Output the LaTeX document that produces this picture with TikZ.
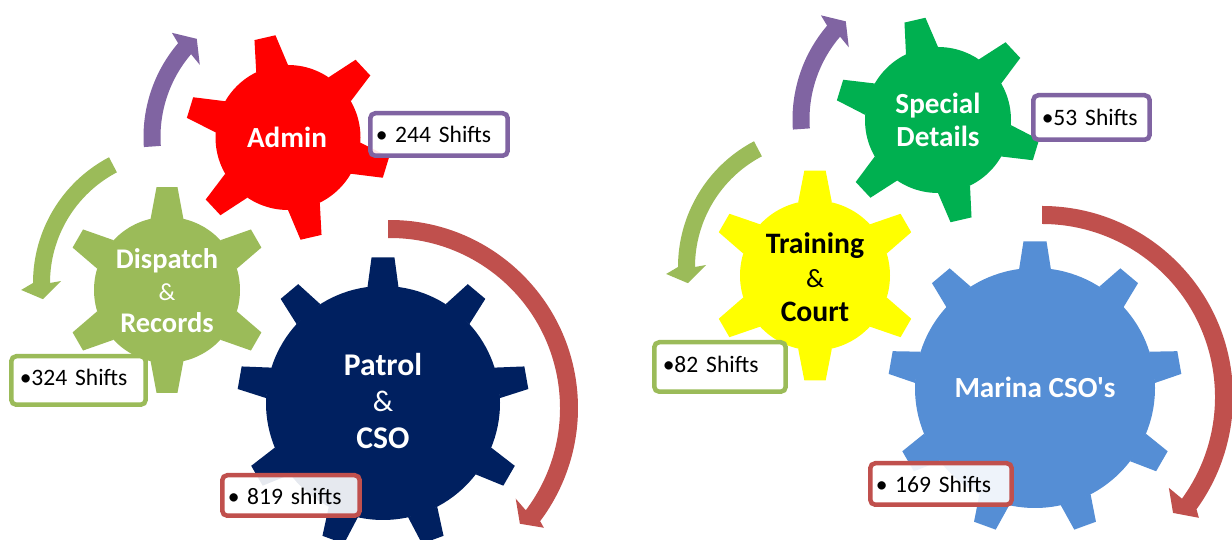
\documentclass[tikz,border=0pt]{standalone}
\usepackage{fontspec}
\setmainfont{Carlito}[Ligatures=TeXOff]
\definecolor{adminred}{HTML}{FF0000}
\definecolor{dispgreen}{HTML}{9BBB59}
\definecolor{patrolblue}{HTML}{002060}
\definecolor{specialgreen}{HTML}{00B050}
\definecolor{trainyellow}{HTML}{FFFF00}
\definecolor{marinablue}{HTML}{558ED5}
\definecolor{arrowpurple}{HTML}{8064A2}
\definecolor{arrowred}{HTML}{C0504D}
\newcommand{\ampsign}[1][14]{{\fontsize{#1}{0}\selectfont\mdseries\&}}
\newcommand{\gapbullet}{\hspace*{-1.7pt}•\hspace{4.4pt}}

\begin{document}
\begin{tikzpicture}[
      x=0.02cm,y=0.02cm,
      gearlabel/.style 2 args={
         align=center,
         inner sep=0pt,
         font=\fontsize{#1}{#2}\selectfont\bfseries},
      labelbox/.style 2 args={
         draw=#1,
         fill=white,
         fill opacity=0.9,
         text opacity=1,
         line width=0.09cm,
         rounded corners=0.1cm,
         inner xsep=0.17cm,
         inner ysep=0.1cm,
         text width=#2,
         align=left,
         font=\fontsize{13.4}{15}\selectfont}
      ]
      \path[use as bounding box] (0,0) rectangle (1232,540);

    % arrows round the gears: centre/radius/width/start/end/head/colour
    \foreach \cx/\cy/\rad/\wid/\sa/\ea/\oa/\orad/\ta/\trad/\ia/\irad/\col in {%
      288/403/136/17/184/139.5/138.1/156/132.9/134/140.7/114/arrowpurple,
      175/257/133.5/17/117.7/180/182.6/154/187/133/179/114/dispgreen,
      390/132/179/18/90.6/-37/-37.9/195/-41.7/174/-35.8/155/arrowred,
      937/420.5/136/17/184/139.5/138.1/156/132.9/134/140.7/114/arrowpurple,
      820/273/133.5/17/117.7/180/182.6/154/187/133/179/114/dispgreen,
      1042/143/182/18/90/-36/-37.6/198/-41.5/175/-35.6/156/arrowred}
    {
      \begin{scope}[shift={(\cx,\cy)}]
        \fill[\col] (\sa:\rad+\wid/2) arc (\sa:\ea:\rad+\wid/2) -- (\oa:\orad)
          -- (\ta:\trad) -- (\ia:\irad) -- (\ea:\rad-\wid/2) arc (\ea:\sa:\rad-\wid/2) -- cycle;
      \end{scope}
    }

    % gears: centre/body radius/tip radius/teeth/first tooth/half angles/colour
    \foreach \cx/\cy/\rb/\rt/\n/\rot/\ba/\tb/\col in {%
      288/402.5/72.5/103/6/103/13/6/adminred,
      167/250/73/103.5/6/90/13/5.8/dispgreen,
      383/137/117/146/9/90/7.6/4.5/patrolblue,
      938/420/73/103/6/103/13/6/specialgreen,
      815/264.5/75/105.5/6/90/13/5.8/trainyellow,
      1035/152/120/147/9/90/7.6/4.5/marinablue}
    {
      \begin{scope}[shift={(\cx,\cy)}]
        \fill[\col] (0,0) circle (\rb);
        \foreach \k in {1,...,\n} {
          \pgfmathsetmacro{\ang}{\rot+(\k-1)*360/\n}
          \fill[\col] (\ang-\ba:\rb) -- (\ang-\tb:\rt) -- (\ang+\tb:\rt) -- (\ang+\ba:\rb) -- cycle;
        }
      \end{scope}
    }

    \node[gearlabel={16.6}{18},white] (admin) at (287,403) {Admin};
    \node[gearlabel={16.2}{18.2},white] (dispatch) at (167,249) {Dispatch\\\ampsign\\Records};
    \node[gearlabel={18}{21},white] (patrol) at (383,139) {Patrol\\\ampsign[17]\\CSO};
    \node[gearlabel={16.6}{18.8},white] (special) at (938,420) {Special\\Details};
    \node[gearlabel={16.9}{19.3},black] (training) at (815,263) {Training\\\ampsign[15]\\Court};
    \node[gearlabel={16.6}{18},white] (marina) at (1035,153) {Marina CSO's};

    \node[labelbox={arrowpurple}{2.41cm},minimum height=0.85cm] (adminbox) at (439,405.5) {\gapbullet 244 Shifts};
    \node[labelbox={dispgreen}{2.35cm},minimum height=0.97cm,text depth=0.12cm] (dispbox) at (78.5,159.5) {•324 Shifts};
    \node[labelbox={arrowred}{2.41cm},minimum height=0.81cm,text height=0.37cm] (patrolbox) at (291,44.5) {\gapbullet 819 shifts};
    \node[labelbox={arrowpurple}{1.99cm},minimum height=0.89cm] (specialbox) at (1091.5,422.5) {•53 Shifts};
    \node[labelbox={dispgreen}{2.29cm},minimum height=0.99cm,text depth=0.12cm] (trainbox) at (720,173) {•82 Shifts};
    \node[labelbox={arrowred}{2.49cm},minimum height=0.83cm] (marinabox) at (941,56) {\gapbullet 169 Shifts};
\end{tikzpicture}
\end{document}
